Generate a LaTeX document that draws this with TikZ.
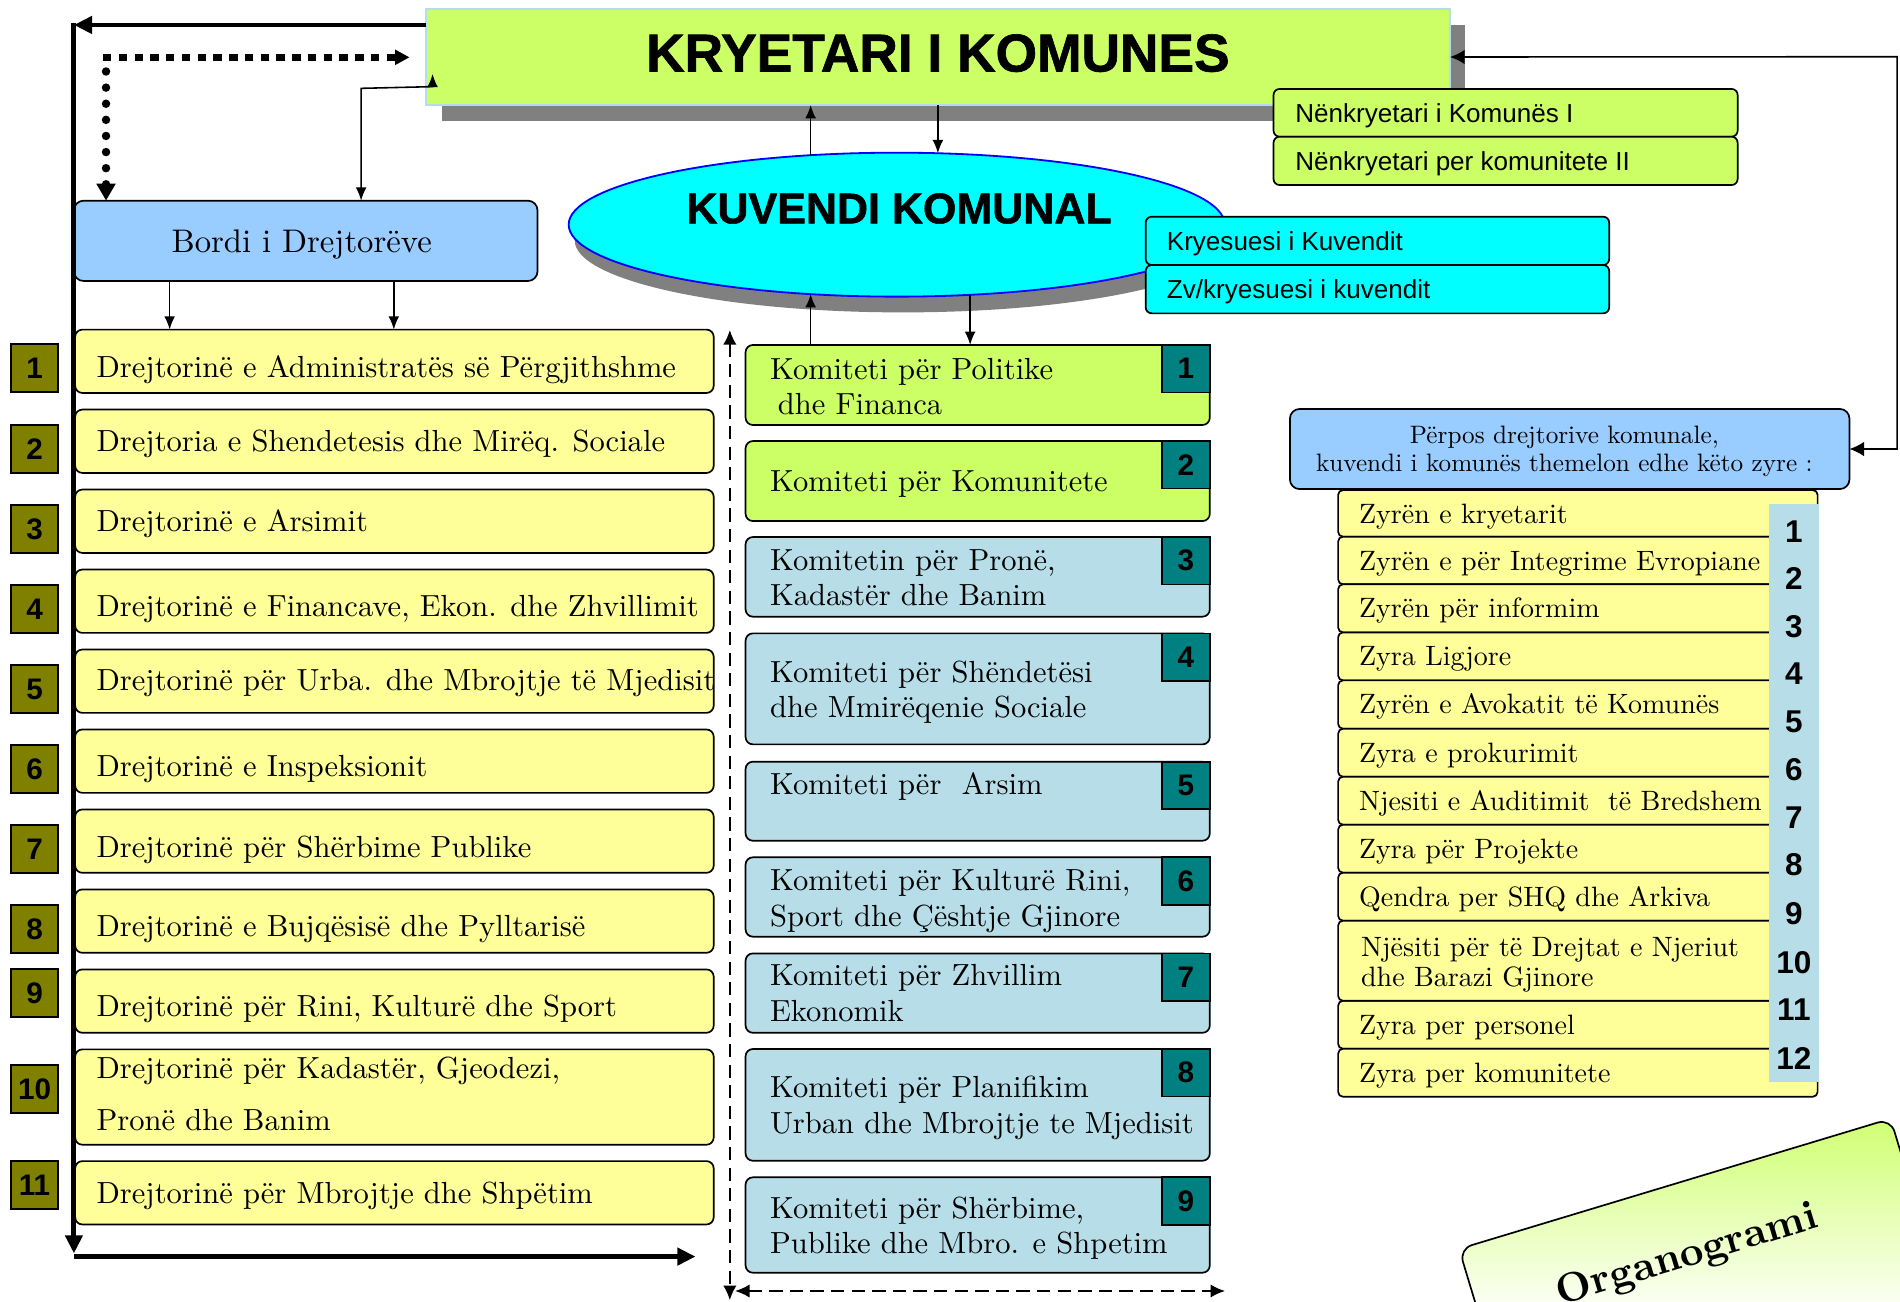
\documentclass[tikz,border=0pt]{standalone}
\usepackage{fontspec}
\setmainfont{lmroman10-regular.otf}[BoldFont=lmroman10-bold.otf]
\newfontfamily\sansf{Liberation Sans}
\newfontfamily\sansheavy{Liberation Sans Bold}[FakeBold=1.2]
\usetikzlibrary{arrows.meta,calc,shapes.geometric}
\definecolor{lgreen}{HTML}{CCFF66}
\definecolor{lyel}{HTML}{FFFF99}
\definecolor{lblue}{HTML}{99CCFF}
\definecolor{kcyan}{HTML}{00FFFF}
\definecolor{olivebox}{HTML}{808000}
\definecolor{tealbox}{HTML}{008080}
\definecolor{gblue}{HTML}{B7DEE8}
\definecolor{shgray}{HTML}{808080}
\definecolor{kborder}{HTML}{B4DCEC}
\newcommand{\fDir}{\fontsize{25.2pt}{30pt}\selectfont}
\newcommand{\fZyr}{\fontsize{23.1pt}{28pt}\selectfont}
\newcommand{\fBord}{\fontsize{27pt}{32pt}\selectfont}
\newcommand{\fPerp}{\fontsize{20.8pt}{25pt}\selectfont}
\newcommand{\fSub}{\sansf\fontsize{21.5pt}{26pt}\selectfont}
\newcommand{\fKry}{\sansheavy\fontsize{44pt}{50pt}\selectfont}
\newcommand{\fKuv}{\sansheavy\fontsize{35.5pt}{40pt}\selectfont}
\newcommand{\fNum}{\sansf\bfseries\fontsize{24.5pt}{28pt}\selectfont}
\newcommand{\fNumR}{\sansf\bfseries\fontsize{26pt}{30pt}\selectfont}
\newcommand{\fOrg}{\bfseries\fontsize{34pt}{40pt}\selectfont}
\begin{document}
\begin{tikzpicture}[x=1pt,y=-1pt,
 every node/.style={inner sep=0pt, outer sep=0pt},
 bx/.style={draw=black, line width=1.4pt, rounded corners=6pt, anchor=north west},
 ybx/.style={bx, fill=lyel},
 olsq/.style={draw=black, line width=1.4pt, fill=olivebox, anchor=north west, minimum width=39pt, minimum height=39.5pt, font=\fNum},
 tlsq/.style={draw=black, line width=1.4pt, fill=tealbox, anchor=north west, minimum width=39.7pt, minimum height=39.2pt, font=\fNum},
 lbl/.style={anchor=base west},
 tarr/.style={line width=1.3pt, -{Latex[length=11pt,width=9pt]}},
 tarr2/.style={line width=1.3pt, {Latex[length=11pt,width=9pt]}-{Latex[length=11pt,width=9pt]}},
 bigarr2/.style={line width=1.3pt, {Latex[length=12pt,width=12pt]}-{Latex[length=12pt,width=12pt]}},
 fatarr/.style={line width=4pt, -{Triangle[length=15pt,width=14pt]}},
 dsh/.style={line width=1.6pt, dash pattern=on 11pt off 6pt, {Latex[length=12pt,width=11pt]}-{Latex[length=12pt,width=11pt]}},
]
\useasboundingbox (0,0) rectangle (1568,1074);
\fill[white] (0,0) rectangle (1568,1074);

% ---------- top: KRYETARI ----------
\node[fill=shgray, anchor=north west, minimum width=844pt, minimum height=79pt] (krysh) at (365,20.6) {};
\node[draw=kborder, line width=1.2pt, fill=lgreen, anchor=north west, minimum width=845.1pt, minimum height=79.3pt] (kry) at (351.6,7.4) {};
\node[anchor=base, font=\fKry] (krytxt) at (774,59) {KRYETARI I KOMUNES};

\node[bx, fill=lgreen, rounded corners=5pt, minimum width=383pt, minimum height=39.4pt] (nk1) at (1051,73.4) {};
\node[bx, fill=lgreen, rounded corners=5pt, minimum width=383pt, minimum height=39.9pt] (nk2) at (1051,112.8) {};
\node[lbl, font=\fSub] (nk1t) at ($(nk1.north west)+(18,27.8)$) {Nënkryetari i Komunës I};
\node[lbl, font=\fSub] (nk2t) at ($(nk2.north west)+(18,28.1)$) {Nënkryetari per komunitete II};

% ---------- KUVENDI ----------
\node[ellipse, fill=shgray, minimum width=541.4pt, minimum height=118.8pt] (kuvsh) at (745,198.4) {};
\node[ellipse, draw=blue, line width=1.5pt, fill=kcyan, minimum width=541.4pt, minimum height=118.8pt] (kuv) at (740,185.4) {};
\node[anchor=base, font=\fKuv] (kuvt) at (742,184.3) {KUVENDI KOMUNAL};

\node[bx, fill=kcyan, rounded corners=5pt, minimum width=382.5pt, minimum height=39.9pt] (kr1) at (945.5,178.8) {};
\node[bx, fill=kcyan, rounded corners=5pt, minimum width=382.5pt, minimum height=39.9pt] (kr2) at (945.5,218.7) {};
\node[lbl, font=\fSub] (kr1t) at ($(kr1.north west)+(17.5,28.1)$) {Kryesuesi i Kuvendit};
\node[lbl, font=\fSub] (kr2t) at ($(kr2.north west)+(17.5,27.5)$) {Zv/kryesuesi i kuvendit};

% ---------- Bordi ----------
\node[bx, fill=lblue, rounded corners=8pt, minimum width=382.6pt, minimum height=66.3pt] (bordi) at (61,165.6) {};
\node[anchor=base, font=\fBord] (bordit) at (249,208.2) {Bordi i Drejtorëve};

% ---------- left column ----------
\foreach \i/\tp/\o/\s/\txt in {
 1/272/39.7/284/{Drejtorinë e Administratës së Përgjithshme},
 2/338/34.8/350.7/{Drejtoria e Shendetesis dhe Mirëq. Sociale},
 3/404/34.8/416.8/{Drejtorinë e Arsimit},
 4/470/39/482.8/{Drejtorinë e Financave, Ekon. dhe Zhvillimit},
 5/536/34/548.8/{Drejtorinë për Urba. dhe Mbrojtje të Mjedisit},
 6/602/39/614.8/{Drejtorinë e Inspeksionit},
 7/668/39.5/680.9/{Drejtorinë për Shërbime Publike},
 8/734/39/746.9/{Drejtorinë e Bujqësisë dhe Pylltarisë},
 9/800/39/799.7/{Drejtorinë për Rini, Kulturë dhe Sport},
 11/958.2/35/958.2/{Drejtorinë për Mbrojtje dhe Shpëtim}}
{
 \node[ybx, minimum width=527pt, minimum height=52.3pt] (d\i) at (62,\tp) {};
 \node[lbl, font=\fDir] (dt\i) at ($(d\i.north west)+(17.7,\o)$) {\txt};
 \node[olsq] (s\i) at (9,\s) {\i};
}
\node[ybx, minimum width=527pt, minimum height=78.7pt] (d10) at (62,866) {};
\node[lbl, font=\fDir] (dt10a) at ($(d10.north west)+(17.7,24)$) {Drejtorinë për Kadastër, Gjeodezi,};
\node[lbl, font=\fDir] (dt10b) at ($(d10.north west)+(17.7,67.2)$) {Pronë dhe Banim};
\node[olsq] (s10) at (9,879) {10};

% ---------- committees ----------
\foreach \i/\tp/\h/\col in {1/284.7/66/lgreen, 2/364/66/lgreen, 3/443.2/65.7/gblue, 4/522.7/91.6/gblue, 5/628.6/65.2/gblue, 6/707.5/65.5/gblue, 7/786.8/65.5/gblue, 8/865.7/92.2/gblue, 9/971.6/78.7/gblue}
{
 \node[bx, fill=\col, minimum width=383.1pt, minimum height=\h] (c\i) at (615.3,\tp) {};
 \node[tlsq] (cs\i) at ($(c\i.north east)+(-39.7,0)$) {\i};
}
\node[lbl, font=\fDir] (ct1a) at ($(c1.north west)+(20.2,28.3)$) {Komiteti për Politike};
\node[lbl, font=\fDir] (ct1b) at ($(c1.north west)+(26.7,57.3)$) {dhe Financa};
\node[lbl, font=\fDir] (ct2a) at ($(c2.north west)+(20.2,41.8)$) {Komiteti për Komunitete};
\node[lbl, font=\fDir] (ct3a) at ($(c3.north west)+(20.2,27.8)$) {Komitetin për Pronë,};
\node[lbl, font=\fDir] (ct3b) at ($(c3.north west)+(20.2,56.8)$) {Kadastër dhe Banim};
\node[lbl, font=\fDir] (ct4a) at ($(c4.north west)+(20.2,40.3)$) {Komiteti për Shëndetësi};
\node[lbl, font=\fDir] (ct4b) at ($(c4.north west)+(20.2,69.6)$) {dhe Mmirëqenie Sociale};
\node[lbl, font=\fDir] (ct5a) at ($(c5.north west)+(20.2,26.9)$) {Komiteti për~ Arsim};
\node[lbl, font=\fDir] (ct6a) at ($(c6.north west)+(20.2,27.5)$) {Komiteti për Kulturë Rini,};
\node[lbl, font=\fDir] (ct6b) at ($(c6.north west)+(20.2,56.7)$) {Sport dhe Çështje Gjinore};
\node[lbl, font=\fDir] (ct7a) at ($(c7.north west)+(20.2,26.2)$) {Komiteti për Zhvillim};
\node[lbl, font=\fDir] (ct7b) at ($(c7.north west)+(20.2,56.4)$) {Ekonomik};
\node[lbl, font=\fDir] (ct8a) at ($(c8.north west)+(20.2,40.2)$) {Komiteti për Planifikim};
\node[lbl, font=\fDir] (ct8b) at ($(c8.north west)+(20.2,69.6)$) {Urban dhe Mbrojtje te Mjedisit};
\node[lbl, font=\fDir] (ct9a) at ($(c9.north west)+(20.2,33.9)$) {Komiteti për Shërbime,};
\node[lbl, font=\fDir] (ct9b) at ($(c9.north west)+(20.2,62.8)$) {Publike dhe Mbro. e Shpetim};

% ---------- right: offices ----------
\node[bx, fill=lblue, rounded corners=8pt, minimum width=461.8pt, minimum height=66.1pt] (perpos) at (1064.5,337.5) {};
\node[anchor=base, font=\fPerp] (pt1) at (1291,365.9) {Përpos drejtorive komunale,};
\node[anchor=base, font=\fPerp] (pt2) at (1291,389.3) {kuvendi i komunës themelon edhe këto zyre :};

\foreach \i/\tp/\h/\txt in {
 1/404.4/38.5/{Zyrën e kryetarit},
 2/442.9/39.3/{Zyrën e për Integrime Evropiane},
 3/482.2/39.7/{Zyrën për informim},
 4/521.9/39.6/{Zyra Ligjore},
 5/561.5/39.9/{Zyrën e Avokatit të Komunës},
 6/601.4/39.6/{Zyra e prokurimit},
 7/641/39.6/{Njesiti e Auditimit~ të Bredshem},
 8/680.6/39.6/{Zyra për Projekte},
 9/720.2/39.6/{Qendra per SHQ dhe Arkiva},
 11/825.9/39.6/{Zyra per personel},
 12/865.5/39.6/{Zyra per komunitete}}
{
 \node[ybx, rounded corners=4pt, minimum width=395.7pt, minimum height=\h] (z\i) at (1104.3,\tp) {};
 \node[lbl, font=\fZyr] (zt\i) at ($(z\i.north west)+(17.3,27.7)$) {\txt};
}
\node[ybx, rounded corners=4pt, minimum width=395.7pt, minimum height=66.1] (z10) at (1104.3,759.8) {};
\node[lbl, font=\fZyr] (zt10a) at ($(z10.north west)+(19,29.2)$) {Njësiti për të Drejtat e Njeriut};
\node[lbl, font=\fZyr] (zt10b) at ($(z10.north west)+(19,54.5)$) {dhe Barazi Gjinore};

\node[fill=gblue, anchor=north west, minimum width=40.8pt, minimum height=476.7pt] (ncol) at (1460,416) {};
\foreach \i/\y in {1/438.8, 2/477.3, 3/517.2, 4/556.2, 5/595.6, 6/635.5, 7/674.5, 8/713.9, 9/754.3, 10/794.2, 11/833.5, 12/873.4}
{
 \node[font=\fNumR] (zn\i) at (1480.4,\y) {\i};
}

% ---------- connectors ----------
\coordinate (tl) at (61,20.6);
\draw[fatarr] (kry.west |- tl) -- (tl);
\coordinate (vt) at (61,18.6);
\coordinate (vb) at (61,1034.4);
\draw[fatarr] (vt) -- (vb);
\coordinate (bl) at (61,1037);
\coordinate (br) at (574,1037);
\draw[fatarr] (bl) -- (br);

\coordinate (dt0) at (87.5,47.3);
\coordinate (dth0) at (85,47.3);
\coordinate (dth1) at (338,47.3);
\draw[line width=5.5pt, dash pattern=on 7pt off 6pt, -{Triangle[length=12pt,width=12pt]}] (dth0) -- (dth1);
\coordinate (dtv0) at (87.5,59);
\draw[line width=7pt, line cap=round, dash pattern=on 0pt off 13.3pt, -{Triangle[length=14pt,width=15pt]}] (dtv0) -- (bordi.north -| dt0);

\coordinate (bk1) at (298,72.9);
\coordinate (bk2) at (357,71.5);
\coordinate (bk3) at (357,61);
\draw[tarr2] (bordi.north -| bk1) -- (bk1) -- (bk2) -- (bk3);

\coordinate (xb1) at (140,0);
\coordinate (xb2) at (325,0);
\draw[tarr] (bordi.south -| xb1) -- (d1.north -| xb1);
\draw[tarr] (bordi.south -| xb2) -- (d1.north -| xb2);

\coordinate (e1) at (669,128.1);
\coordinate (e2) at (774,126.5);
\coordinate (e3) at (669,242.7);
\coordinate (e4) at (800.6,243.3);
\draw[tarr] (e1) -- (kry.south -| e1);
\draw[tarr] (kry.south -| e2) -- (e2);
\draw[tarr] (c1.north -| e3) -- (e3);
\draw[tarr] (e4) -- (c1.north -| e4);

\coordinate (rc) at (1565.6,46.8);
\draw[bigarr2] (perpos.east) -| (rc) -- (kry.east);

\coordinate (dv1) at (602.3,272.3);
\coordinate (dv2) at (602.3,1073);
\draw[dsh] (dv1) -- (dv2);
\coordinate (dh1) at (606.6,1065.4);
\coordinate (dh2) at (1011,1065.4);
\draw[dsh] (dh1) -- (dh2);

% ---------- Organogrami ----------
\node[rotate=16.8, anchor=north west, minimum width=372pt, minimum height=160pt] (orgbox) at (1204.1,1030.7) {};
\begin{scope}
\clip[rounded corners=11pt] (orgbox.north west) -- (orgbox.north east) -- (orgbox.south east) -- (orgbox.south west) -- cycle;
\shade[top color=lgreen, bottom color=white] (1180,910) rectangle (1600,1090);
\end{scope}
\draw[line width=1.4pt, rounded corners=11pt] (orgbox.north west) -- (orgbox.north east) -- (orgbox.south east) -- (orgbox.south west) -- cycle;
\node[rotate=16.8, anchor=base west, font=\fOrg] (orgt) at (1288,1077) {Organogrami};
\end{tikzpicture}
\end{document}
